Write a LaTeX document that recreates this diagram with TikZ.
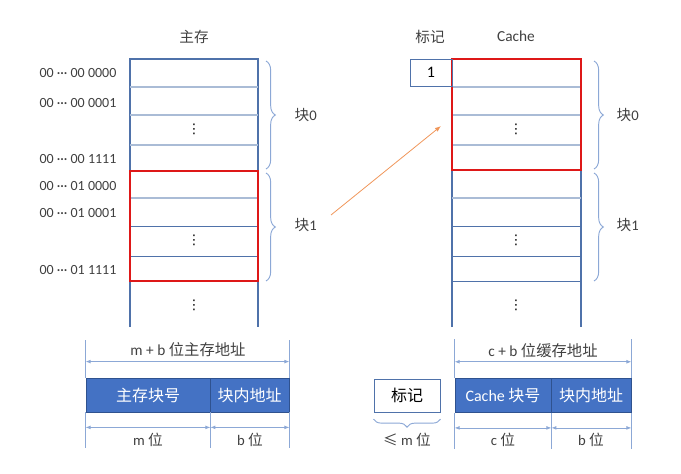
\documentclass[tikz,border=0pt]{standalone}
\usepackage{fontspec}
\setmainfont{Carlito}
\newfontfamily\cjk{Noto Sans CJK SC}
\newfontfamily\symf{DejaVu Sans}
\usetikzlibrary{arrows.meta,decorations.pathreplacing,positioning}
\definecolor{colline}{RGB}{79,114,170}
\definecolor{collight}{RGB}{170,188,214}
\definecolor{blkred}{RGB}{222,24,24}
\definecolor{barblue}{RGB}{68,114,196}
\definecolor{bardark}{RGB}{47,82,143}
\definecolor{guide}{RGB}{140,168,214}
\definecolor{txt}{RGB}{64,64,64}
\definecolor{mapor}{RGB}{240,150,90}

\begin{document}
\begin{tikzpicture}[x=0.75pt,y=-0.75pt,
  >={Latex[length=1.3mm,width=1mm]},
  lbl/.style={text=txt,font=\fontsize{11}{13}\selectfont,inner sep=1pt},
  addr/.style={lbl,anchor=east,font=\fontsize{10.5}{12}\selectfont},
  dots/.style={inner sep=0pt,font=\symf\fontsize{10}{12}\selectfont},
  col/.style={draw=colline,line width=0.9pt},
  rowline/.style={draw=collight,line width=0.8pt},
  blk/.style={draw=blkred,line width=1.1pt},
  brc/.style={draw=guide,decorate,decoration={brace,amplitude=7pt},line width=0.7pt},
  bar/.style={fill=barblue,draw=bardark,line width=0.6pt,text=white,inner sep=0pt,
              minimum height=25.5pt,font=\cjk\fontsize{12}{14}\selectfont},
  tagbox/.style={draw=colline,line width=0.7pt,inner sep=0pt,font=\fontsize{12}{14}\selectfont},
  guideline/.style={draw=guide,line width=0.5pt},
  dim/.style={<->,draw=guide,line width=0.6pt}]
  \useasboundingbox (0,0) rectangle (681,474);
  %  -- - main memory column  -- -
  \node[lbl,font=\cjk\fontsize{11}{13}\selectfont] (mainT) at (194,37) {主存};
  \draw[col] (130,327) -- (130,59) -- (258,59) -- (258,327);
  \foreach \y in {87,115,145,198} \draw[rowline] (130,\y) -- (258,\y);
  \foreach \y in {226,256} \draw[col,line width=0.7pt] (130,\y) -- (258,\y);
  \draw[blk] (130,171) rectangle (258,281);
  \node[addr] (a1) at (118,73) {00 ··· 00 0000};
  \node[addr] (a2) at (118,103) {00 ··· 00 0001};
  \node[addr] (a3) at (118,159) {00 ··· 00 1111};
  \node[addr] (a4) at (118,186) {00 ··· 01 0000};
  \node[addr] (a5) at (118,213) {00 ··· 01 0001};
  \node[addr] (a6) at (118,270) {00 ··· 01 1111};
  \node[dots] (md1) at (194,129) {⋮};
  \node[dots] (md2) at (194,240) {⋮};
  \node[dots] (md3) at (194,305) {⋮};
  \draw[brc] (266,61) -- (266,169);
  \draw[brc] (266,173) -- (266,281);
  \node[lbl,anchor=west] (mb0) at (293,115) {{\cjk 块}0};
  \node[lbl,anchor=west] (mb1) at (293,225) {{\cjk 块}1};
  %  -- - cache column  -- -
  \node[lbl,font=\cjk\fontsize{11}{13}\selectfont] (tagT) at (430,37) {标记};
  \node[lbl,font=\fontsize{11.5}{13}\selectfont] (cacheT) at (516,36) {Cache};
  \draw[col] (452,327) -- (452,59) -- (581,59) -- (581,327);
  \foreach \y in {87,115,145,198} \draw[rowline] (452,\y) -- (581,\y);
  \foreach \y in {226,256,281} \draw[col,line width=0.7pt] (452,\y) -- (581,\y);
  \draw[blk] (452,59) rectangle (581,170);
  \node[tagbox,minimum width=31.5pt,minimum height=20.25pt] (tag1) at (431,72.5) {1};
  \node[dots] (cd1) at (516,129) {⋮};
  \node[dots] (cd2) at (516,240) {⋮};
  \node[dots] (cd3) at (516,305) {⋮};
  \draw[brc] (594,61) -- (594,169);
  \draw[brc] (594,173) -- (594,281);
  \node[lbl,anchor=west] (cb0) at (615,115) {{\cjk 块}0};
  \node[lbl,anchor=west] (cb1) at (615,225) {{\cjk 块}1};
  %  -- - mapping  -- -
  \coordinate (mapS) at (331,215);
  \coordinate (mapE) at (441,126);
  \draw[->,draw=mapor,line width=0.6pt,>={Latex[length=1.6mm,width=1.2mm]}] (mapS) -- (mapE);
  %  -- - main memory address  -- -
  \node[bar,minimum width=93pt] (mNo) at (148,395) {主存块号};
  \node[bar,minimum width=59.25pt] (mOff) at (249.5,395) {块内地址};
  \draw[guideline] (mNo.north west) -- ++(0,-38) coordinate (mTL);
  \draw[guideline] (mOff.north east) -- ++(0,-38) coordinate (mTR);
  \draw[guideline] (mNo.south west) -- ++(0,36) coordinate (mBL);
  \draw[guideline] (mNo.south east) -- ++(0,36) coordinate (mBM);
  \draw[guideline] (mOff.south east) -- ++(0,36) coordinate (mBR);
  \draw[dim] ([yshift=-16.5]mTL) -- ([yshift=-16.5]mTR);
  \draw[dim] ([yshift=15.75]mBL) -- ([yshift=15.75]mBM);
  \draw[dim] ([yshift=15.75]mBM) -- ([yshift=15.75]mBR);
  \node[lbl,font=\fontsize{11.5}{13}\selectfont] (mW) at (188,350) {m + b {\cjk 位主存地址}};
  \node[lbl] (mM) at (148,440) {m {\cjk 位}};
  \node[lbl] (mB) at (250,440) {b {\cjk 位}};
  %  -- - cache address  -- -
  \node[tagbox,minimum width=49.5pt,minimum height=24.75pt,font=\cjk\fontsize{12}{14}\selectfont] (tagA) at (407,395.5) {标记};
  \node[bar,minimum width=72pt] (cNo) at (503,395.5) {{\fontspec{Carlito}Cache} 块号};
  \node[bar,minimum width=60pt] (cOff) at (591,395.5) {块内地址};
  \draw[guideline] (cNo.north west) -- ++(0,-39) coordinate (cTL);
  \draw[guideline] (cOff.north east) -- ++(0,-39) coordinate (cTR);
  \draw[guideline] (cNo.south west) -- ++(0,36) coordinate (cBL);
  \draw[guideline] (cNo.south east) -- ++(0,36) coordinate (cBM);
  \draw[guideline] (cOff.south east) -- ++(0,36) coordinate (cBR);
  \draw[dim] ([yshift=-17]cTL) -- ([yshift=-17]cTR);
  \draw[dim] ([yshift=15.75]cBL) -- ([yshift=15.75]cBM);
  \draw[dim] ([yshift=15.75]cBM) -- ([yshift=15.75]cBR);
  \draw[brc,decoration={brace,amplitude=6pt}] ([yshift=-5]tagA.south east) -- ([yshift=-5]tagA.south west);
  \node[lbl,font=\fontsize{11.5}{13}\selectfont] (cW) at (543,351) {c + b {\cjk 位缓存地址}};
  \node[lbl] (cTag) at (407,440) {{\cjk ≤} m {\cjk 位}};
  \node[lbl] (cC) at (503,440) {c {\cjk 位}};
  \node[lbl] (cB) at (591,440) {b {\cjk 位}};
\end{tikzpicture}
\end{document}
